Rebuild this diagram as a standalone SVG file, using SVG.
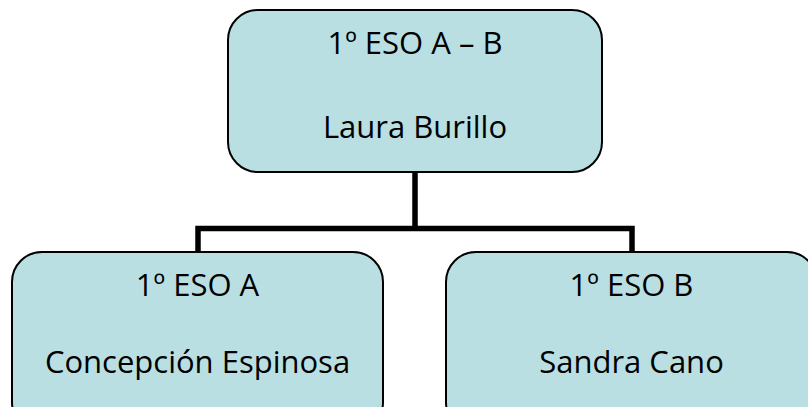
<svg xmlns="http://www.w3.org/2000/svg" width="808" height="407" viewBox="0 0 808 407">
<style>
.box{fill:#B9DFE3;stroke:#000;stroke-width:2}
.t{font-family:"Open Sans","Liberation Sans",sans-serif;font-size:31px;fill:#000;text-anchor:middle}
.c{fill:none;stroke:#000;stroke-width:5.5}
</style>
<rect width="808" height="407" fill="#fff"/>
<g id="connectors">
<path class="c" d="M415,171 V228.5 M198,252 V228.5 H632 V252"/>
</g>
<g id="top">
<rect class="box" x="228" y="10" width="374" height="162" rx="30"/>
<text class="t" x="415" y="54">1º ESO A – B</text>
<text class="t" x="415" y="138">Laura Burillo</text>
</g>
<g id="left">
<rect class="box" x="12" y="252" width="371" height="180" rx="30"/>
<text class="t" x="197.5" y="296">1º ESO A</text>
<text class="t" x="197.5" y="373">Concepción Espinosa</text>
</g>
<g id="right">
<rect class="box" x="446" y="252" width="371" height="180" rx="30"/>
<text class="t" x="631.5" y="296">1º ESO B</text>
<text class="t" x="631.5" y="373">Sandra Cano</text>
</g>
</svg>
